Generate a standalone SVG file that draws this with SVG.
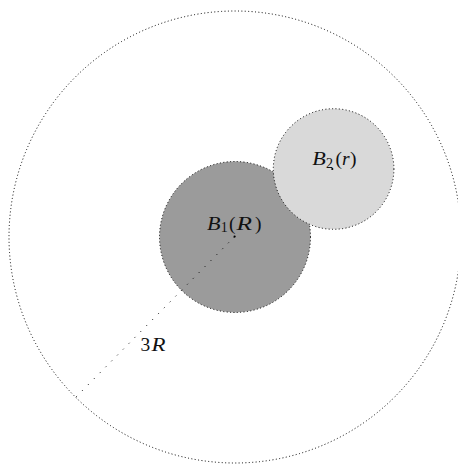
<svg xmlns="http://www.w3.org/2000/svg" width="458" height="464" viewBox="0 0 458 464">
<style>
.outline{stroke:#000;stroke-width:1;stroke-dasharray:1 2.4}
.ctr{fill:#000}
text{font-family:"Liberation Serif","Times New Roman",serif;font-size:19.5px;fill:#111}
.it{font-style:italic}
.sub{font-size:14px}
</style>
<rect width="458" height="464" fill="#fff"/>
<g id="ball-3R">
<circle cx="235" cy="237" r="226" fill="none" class="outline"/>
</g>
<g id="B1">
<circle cx="235" cy="237" r="75.5" fill="#9b9b9b" class="outline"/>
<circle cx="234.6" cy="236.6" r="1.1" class="ctr"/>
<text class="it" x="207" y="230" textLength="13.5" lengthAdjust="spacingAndGlyphs">B</text>
<text class="sub" x="220.8" y="232">1</text>
<text x="229" y="230">(</text>
<text class="it" x="236.5" y="230" textLength="15.5" lengthAdjust="spacingAndGlyphs">R</text>
<text x="255" y="230">)</text>
</g>
<g id="B2">
<circle cx="333.6" cy="169" r="60.3" fill="#d9d9d9" class="outline"/>
<circle cx="332.3" cy="169" r="1.1" class="ctr"/>
<text class="it" x="312.3" y="165" textLength="13.5" lengthAdjust="spacingAndGlyphs">B</text>
<text class="sub" x="326" y="168">2</text>
<text x="335.5" y="165">(</text>
<text class="it" x="342" y="165">r</text>
<text x="350" y="165">)</text>
</g>
<g id="connectors">
<line x1="234.6" y1="236.6" x2="76" y2="397" stroke="#000" stroke-width="1" stroke-dasharray="1 7.3"/>
</g>
<g id="label-3R">
<text x="140.5" y="350.7">3</text>
<text class="it" x="151.5" y="350.7" textLength="14" lengthAdjust="spacingAndGlyphs">R</text>
</g>
</svg>
